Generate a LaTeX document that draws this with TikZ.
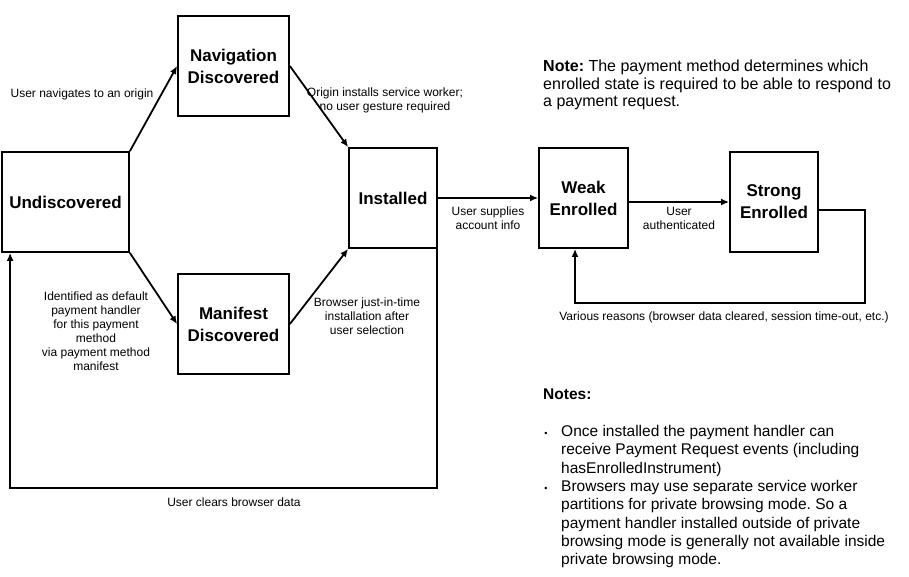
\documentclass[tikz,border=0pt]{standalone}
\usepackage{fontspec}
\setmainfont{Liberation Sans}
\usetikzlibrary{arrows.meta}
\frenchspacing

\begin{document}
\begin{tikzpicture}[x=1pt, y=-1pt,
  box/.style={draw, line width=1.8pt, align=center, inner sep=2pt, minimum height=100pt, font=\fontsize{17}{22}\selectfont\bfseries},
  lbl/.style={align=center, inner sep=0pt, font=\fontsize{12}{14}\selectfont},
  trans/.style={line width=1.8pt, -{Latex[length=8pt, width=7pt]}},
  txt/.style={align=left, inner sep=0pt, font=\fontsize{15.5}{18.3}\selectfont},
  dot/.style={inner sep=0pt, font=\fontsize{9}{9}\selectfont}]
\useasboundingbox[fill=white] (0,0) rectangle (909,576);
\node[box, minimum width=127pt] (und) at (65.5,202) {Undiscovered};
\node[box, minimum width=111pt] (nav) at (233.5,66) {Navigation\\ Discovered};
\node[box, minimum width=111pt] (man) at (233.5,324) {Manifest\\ Discovered};
\node[box, minimum width=88pt] (inst) at (393,198) {Installed};
\node[box, minimum width=89pt] (weak) at (583.5,198) {Weak\\ Enrolled};
\node[box, minimum width=88pt] (strong) at (774,202) {Strong\\ Enrolled};
\draw[trans] (und.north east) -- (nav.west);
\draw[trans] (nav.east) -- (inst.north west);
\draw[trans] (und.south east) -- (man.west);
\draw[trans] (man.east) -- (inst.south west);
\draw[trans] (inst.east) -- (weak.west);
\draw[trans] (weak.east |- strong.west) -- (strong.west);
\draw[trans] ([yshift=-8pt]strong.east) -| ++(46,93) -| ([xshift=-8.5pt]weak.south);
\draw[trans] ([xshift=-1pt]inst.south east) -- ++(0,239) -| ([xshift=9pt]und.south west);
\node[lbl] (lnav) at (82,94) {User navigates to an origin};
\node[lbl] (linst) at (385,100) {Origin installs service worker;\\ no user gesture required};
\node[lbl] (lman) at (96,331) {Identified as default\\ payment handler\\ for this payment\\ method\\ via payment method\\ manifest};
\node[lbl] (lbrow) at (367,316) {Browser just-in-time\\ installation after\\ user selection};
\node[lbl] (lclear) at (234,502) {User clears browser data};
\node[lbl] (lsup) at (488,218) {User supplies\\ account info};
\node[lbl] (lauth) at (679,218) {User\\ authenticated};
\node[lbl] (lvar) at (724,317) {Various reasons (browser data cleared, session time-out, etc.)};
\node[txt, anchor=north west, font=\fontsize{16}{17.5}\selectfont] (note) at (543,60) {\textbf{Note:} The payment method determines which\\ enrolled state is required to be able to respond to\\ a payment request.};
\node[txt, anchor=base west, font=\fontsize{15.5}{18.3}\selectfont\bfseries] (notes) at (543,399) {Notes:};
\node[dot] (b1) at (546,434) {\textbullet};
\node[txt, anchor=north west] (item1) at (561,425) {Once installed the payment handler can\\ receive Payment Request events (including\\ hasEnrolledInstrument)};
\node[dot] (b2) at (546,489) {\textbullet};
\node[txt, anchor=north west] (item2) at (561,480) {Browsers may use separate service worker\\ partitions for private browsing mode. So a\\ payment handler installed outside of private\\ browsing mode is generally not available inside\\ private browsing mode.};
\end{tikzpicture}
\end{document}
